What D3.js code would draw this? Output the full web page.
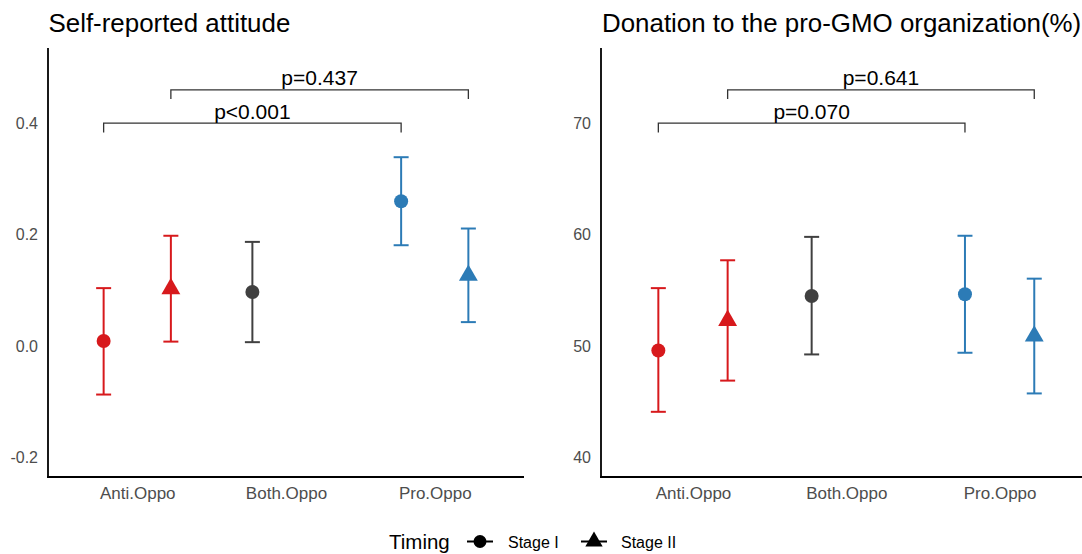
<!DOCTYPE html>
<html>
<head>
<meta charset="utf-8">
<script src="https://cdn.jsdelivr.net/npm/d3@7"></script>
<style>
  html, body { margin: 0; padding: 0; background: #fff; }
  svg { display: block; font-family: "Liberation Sans", Arial, Helvetica, sans-serif; }
</style>
</head>
<body>
<svg id="chart" width="1082" height="554"></svg>
<script>
// ---------- data ----------
const categories = ["Anti.Oppo", "Both.Oppo", "Pro.Oppo"];
const stages = ["Stage I", "Stage II"];
const groupCategory = ["Anti.Oppo", "Anti.Oppo", "Both.Oppo", "Pro.Oppo", "Pro.Oppo"];
const groupStage = ["Stage I", "Stage II", "Stage I", "Stage I", "Stage II"];

const attitudeMean = [0.009, 0.103, 0.097, 0.260, 0.127];
const attitudeLow  = [-0.087, 0.008, 0.007, 0.181, 0.043];
const attitudeHigh = [0.104, 0.198, 0.187, 0.339, 0.211];
const attitudeTicks = [-0.2, 0.0, 0.2, 0.4];
const attitudeTickLabels = ["-0.2", "0.0", "0.2", "0.4"];
const attitudeLimits = [-0.2, 0.5];

const donationMean = [49.6, 52.3, 54.5, 54.65, 50.9];
const donationLow  = [44.1, 46.9, 49.25, 49.4, 45.75];
const donationHigh = [55.2, 57.7, 59.8, 59.9, 56.05];
const donationTicks = [40, 50, 60, 70];
const donationTickLabels = ["40", "50", "60", "70"];
const donationLimits = [40, 75];

// brackets: [from group index, to group index]
const bracketFrom = [0, 1];
const bracketTo = [3, 4];
const attitudeBracketY = [0.4, 0.46];
const attitudePLabels = ["p<0.001", "p=0.437"];
const donationBracketY = [70, 73];
const donationPLabels = ["p=0.070", "p=0.641"];

const categoryColors = ["#d7191c", "#404040", "#2c7bb6"];

// ---------- drawing ----------
const svg = d3.select("#chart");
const colorScale = d3.scaleOrdinal().domain(categories).range(categoryColors);

const circleR = 7;
const triR = 10.9;
function trianglePath(r) {
  const xc = r * Math.sqrt(3) / 2;
  return `M0,${-r}L${xc},${r / 2}L${-xc},${r / 2}Z`;
}

function panel(opts) {
  const { left, right, top, bottom, title, titleX, means, lows, highs, ticks, tickLabels, limits, bY, bLabels } = opts;
  const g = svg.append("g");
  const span = limits[1] - limits[0];
  const y = d3.scaleLinear()
    .domain([limits[0] - 0.05 * span, limits[1] + 0.05 * span])
    .range([bottom, top]);
  const x = d3.scalePoint().domain(categories).range([left, right]).padding(0.6);
  const dodge = 0.226 * x.step();
  const gx = i => x(groupCategory[i]) + (groupStage[i] === "Stage I" ? -dodge : dodge);

  // title
  g.append("text")
    .attr("x", titleX).attr("y", 31.5)
    .attr("font-size", 25.9).attr("fill", "#000")
    .text(title);

  // y axis
  const yAxis = d3.axisLeft(y).tickValues(ticks).tickSize(0).tickPadding(10)
    .tickFormat((d, i) => tickLabels[i]);
  const ya = g.append("g").attr("transform", `translate(${left},0)`).call(yAxis);
  ya.select(".domain").remove();
  ya.selectAll("text").attr("font-size", 16).attr("fill", "#4d4d4d")
    .attr("font-family", "Liberation Sans, Arial, sans-serif");

  // x axis
  const xAxis = d3.axisBottom(x).tickSize(0).tickPadding(10);
  const xa = g.append("g").attr("transform", `translate(0,${bottom})`).call(xAxis);
  xa.select(".domain").remove();
  xa.selectAll("text").attr("font-size", 17).attr("fill", "#4d4d4d")
    .attr("font-family", "Liberation Sans, Arial, sans-serif");

  // axis lines
  g.append("line").attr("x1", left).attr("x2", left).attr("y1", top).attr("y2", bottom + 1)
    .attr("stroke", "#000").attr("stroke-width", 1.8);
  g.append("line").attr("x1", left - 0.9).attr("x2", right).attr("y1", bottom).attr("y2", bottom)
    .attr("stroke", "#000").attr("stroke-width", 1.8);

  // error bars
  const idx = d3.range(groupCategory.length);
  const bars = g.append("g").selectAll("g").data(idx).join("g")
    .attr("stroke", i => colorScale(groupCategory[i])).attr("stroke-width", 2);
  bars.append("line")
    .attr("x1", gx).attr("x2", gx)
    .attr("y1", i => y(lows[i])).attr("y2", i => y(highs[i]));
  bars.append("line")
    .attr("x1", i => gx(i) - 7.5).attr("x2", i => gx(i) + 7.5)
    .attr("y1", i => y(highs[i])).attr("y2", i => y(highs[i]));
  bars.append("line")
    .attr("x1", i => gx(i) - 7.5).attr("x2", i => gx(i) + 7.5)
    .attr("y1", i => y(lows[i])).attr("y2", i => y(lows[i]));

  // points
  g.append("g").selectAll("path").data(idx).join("path")
    .attr("transform", i => `translate(${gx(i)},${y(means[i])})`)
    .attr("d", i => groupStage[i] === "Stage I"
      ? d3.symbol().type(d3.symbolCircle).size(Math.PI * circleR * circleR)()
      : trianglePath(triR))
    .attr("fill", i => colorScale(groupCategory[i]));

  // significance brackets
  const tip = 9.3;
  bY.forEach((v, k) => {
    const x1 = gx(bracketFrom[k]), x2 = gx(bracketTo[k]);
    const yy = y(v);
    g.append("path")
      .attr("d", `M${x1},${yy + tip}V${yy}H${x2}V${yy + tip}`)
      .attr("fill", "none").attr("stroke", "#333").attr("stroke-width", 1.3);
    g.append("text")
      .attr("x", (x1 + x2) / 2).attr("y", yy - 4.5)
      .attr("text-anchor", "middle").attr("font-size", 21).attr("fill", "#000")
      .text(bLabels[k]);
  });
}

panel({
  left: 48, right: 524, top: 48, bottom: 477,
  title: "Self-reported attitude", titleX: 48.5,
  means: attitudeMean, lows: attitudeLow, highs: attitudeHigh,
  ticks: attitudeTicks, tickLabels: attitudeTickLabels, limits: attitudeLimits,
  bY: attitudeBracketY, bLabels: attitudePLabels
});

panel({
  left: 601, right: 1091.6, top: 48, bottom: 477,
  title: "Donation to the pro-GMO organization(%)", titleX: 602,
  means: donationMean, lows: donationLow, highs: donationHigh,
  ticks: donationTicks, tickLabels: donationTickLabels, limits: donationLimits,
  bY: donationBracketY, bLabels: donationPLabels
});

// ---------- legend ----------
const legend = svg.append("g");
legend.append("text").attr("x", 389).attr("y", 548.5)
  .attr("font-size", 20.5).attr("fill", "#000").text("Timing");
const keyX = [480, 594];
const labelX = [508, 621];
stages.forEach((s, k) => {
  legend.append("line").attr("x1", keyX[k] - 13).attr("x2", keyX[k] + 13)
    .attr("y1", 541.5).attr("y2", 541.5).attr("stroke", "#000").attr("stroke-width", 2);
  legend.append("path")
    .attr("transform", `translate(${keyX[k]},${541.5})`)
    .attr("d", k === 0
      ? d3.symbol().type(d3.symbolCircle).size(Math.PI * 6.5 * 6.5)()
      : trianglePath(10))
    .attr("fill", "#000");
  legend.append("text").attr("x", labelX[k]).attr("y", 547.5)
    .attr("font-size", 16).attr("fill", "#000").text(s);
});
</script>
</body>
</html>
